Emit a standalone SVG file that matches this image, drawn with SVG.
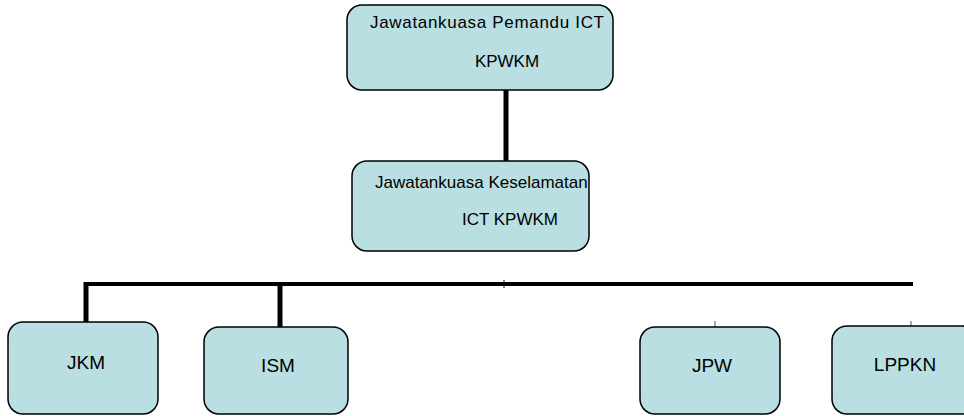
<svg xmlns="http://www.w3.org/2000/svg" width="964" height="416" viewBox="0 0 964 416">
<style>
.box{fill:#b9dfe2;stroke:#000;stroke-width:1.5}
.t{font-family:"Liberation Sans",Arial,sans-serif;font-size:17px;fill:#000}
.b{font-size:19px}
.c{text-anchor:middle}
.thick{stroke:#000;stroke-width:5;fill:none}
.thin{stroke:#000;stroke-width:1;fill:none}
</style>
<g id="connectors">
<line class="thick" x1="506" y1="90" x2="506" y2="161"/>
<line class="thick" x1="84" y1="284" x2="913" y2="284" style="stroke-width:4"/>
<line class="thick" x1="86" y1="282" x2="86" y2="322"/>
<line class="thick" x1="280" y1="282" x2="280" y2="327"/>
<line class="thin" x1="504" y1="280" x2="504" y2="288"/>
<line class="thin" x1="715" y1="321" x2="715" y2="327" style="stroke:#555"/>
<line class="thin" x1="911" y1="321" x2="911" y2="326" style="stroke:#555"/>
</g>
<g id="n1">
<rect class="box" x="347" y="5" width="266" height="85" rx="15"/>
<text class="t" x="370" y="28" textLength="234">Jawatankuasa Pemandu ICT</text>
<text class="t c" x="507" y="67">KPWKM</text>
</g>
<g id="n2">
<rect class="box" x="352" y="161" width="237" height="90" rx="15"/>
<text class="t" x="375" y="188">Jawatankuasa Keselamatan</text>
<text class="t c" x="510" y="225">ICT KPWKM</text>
</g>
<g id="n3">
<rect class="box" x="8" y="322" width="150" height="92" rx="15"/>
<text class="t b c" x="86" y="369">JKM</text>
</g>
<g id="n4">
<rect class="box" x="204" y="327" width="144" height="87" rx="15"/>
<text class="t b c" x="278" y="372">ISM</text>
</g>
<g id="n5">
<rect class="box" x="640" y="327" width="140" height="87" rx="15"/>
<text class="t b c" x="712" y="372">JPW</text>
</g>
<g id="n6">
<rect class="box" x="832" y="326" width="145" height="88" rx="15"/>
<text class="t b c" x="905" y="371">LPPKN</text>
</g>
</svg>
